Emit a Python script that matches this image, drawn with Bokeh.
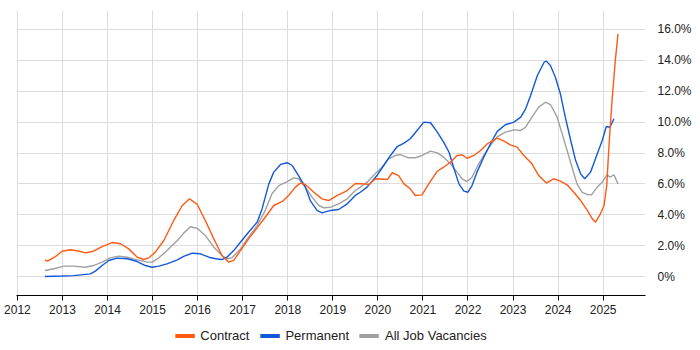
from bokeh.plotting import figure
from bokeh.layouts import column
from bokeh.models import FixedTicker, Legend, LegendItem
from bokeh.embed import file_html
from bokeh.resources import INLINE

# ---- data (percent of job ads) ----
contract_t = [2012.61, 2012.67, 2012.85, 2012.99, 2013.18, 2013.35, 2013.51, 2013.69, 2013.88, 2014.1,
              2014.29, 2014.47, 2014.66, 2014.8, 2014.92, 2015.06, 2015.25, 2015.47, 2015.66, 2015.82,
              2015.99, 2016.17, 2016.36, 2016.54, 2016.69, 2016.8, 2016.95, 2017.13, 2017.32, 2017.5,
              2017.69, 2017.88, 2018.02, 2018.17, 2018.28, 2018.39, 2018.58, 2018.76, 2018.91, 2019.1,
              2019.32, 2019.5, 2019.69, 2019.8, 2019.95, 2020.21, 2020.32, 2020.46, 2020.58, 2020.72,
              2020.83, 2020.98, 2021.13, 2021.32, 2021.46, 2021.61, 2021.76, 2021.87, 2021.98, 2022.13,
              2022.28, 2022.43, 2022.65, 2022.8, 2022.94, 2023.09, 2023.24, 2023.42, 2023.57, 2023.74,
              2023.9, 2024.05, 2024.2, 2024.35, 2024.5, 2024.65, 2024.76, 2024.83, 2024.94, 2025.02,
              2025.08, 2025.13, 2025.2, 2025.27, 2025.33]
contract_v = [1.08, 0.99, 1.3, 1.64, 1.73, 1.65, 1.53, 1.64, 1.94, 2.2,
              2.12, 1.79, 1.25, 1.1, 1.21, 1.58, 2.33, 3.63, 4.6, 5.03,
              4.68, 3.63, 2.44, 1.36, 0.93, 1.04, 1.68, 2.44, 3.15, 3.84,
              4.6, 4.86, 5.25, 5.79, 6.05, 5.96, 5.46, 5.03, 4.92, 5.25,
              5.57, 6.02, 6.0, 5.96, 6.33, 6.28, 6.72, 6.54, 6.0, 5.68,
              5.25, 5.29, 6.0, 6.82, 7.08, 7.4, 7.84, 7.88, 7.66, 7.84,
              8.16, 8.6, 8.97, 8.77, 8.53, 8.38, 7.84, 7.3, 6.54, 6.05,
              6.33, 6.18, 5.94, 5.46, 4.92, 4.28, 3.74, 3.52, 4.06, 4.6,
              5.9, 8.5, 11.5, 14.0, 15.72]

permanent_t = [2012.61, 2012.99, 2013.25, 2013.62, 2013.73, 2013.88, 2014.03, 2014.21, 2014.44, 2014.66,
               2014.84, 2014.99, 2015.14, 2015.32, 2015.55, 2015.69, 2015.88, 2016.06, 2016.25, 2016.4,
               2016.54, 2016.65, 2016.8, 2016.95, 2017.13, 2017.32, 2017.43, 2017.58, 2017.69, 2017.84,
               2017.99, 2018.1, 2018.24, 2018.39, 2018.5, 2018.65, 2018.76, 2018.95, 2019.13, 2019.32,
               2019.5, 2019.61, 2019.76, 2019.98, 2020.13, 2020.28, 2020.43, 2020.58, 2020.72, 2020.87,
               2021.02, 2021.17, 2021.32, 2021.46, 2021.58, 2021.69, 2021.8, 2021.91, 2022.0, 2022.09,
               2022.2, 2022.35, 2022.5, 2022.65, 2022.83, 2023.02, 2023.17, 2023.28, 2023.39, 2023.54,
               2023.69, 2023.74, 2023.83, 2023.94, 2024.05, 2024.16, 2024.28, 2024.39, 2024.5, 2024.59,
               2024.72, 2024.87, 2024.98, 2025.07, 2025.15, 2025.24]
permanent_v = [0.0, 0.03, 0.06, 0.17, 0.35, 0.71, 1.04, 1.19, 1.15, 0.97,
               0.71, 0.6, 0.67, 0.82, 1.08, 1.3, 1.51, 1.47, 1.25, 1.15,
               1.1, 1.25, 1.68, 2.22, 2.87, 3.52, 4.38, 6.0, 6.76, 7.26,
               7.37, 7.19, 6.54, 5.79, 4.92, 4.28, 4.12, 4.28, 4.34, 4.71,
               5.25, 5.46, 5.79, 6.54, 7.19, 7.84, 8.42, 8.64, 8.92, 9.46,
               10.0, 9.96, 9.35, 8.7, 8.05, 6.98, 6.0, 5.53, 5.46, 5.89,
               6.76, 7.73, 8.6, 9.4, 9.83, 10.0, 10.32, 10.86, 11.73, 13.02,
               13.88, 13.95, 13.67, 12.91, 11.84, 10.32, 8.81, 7.51, 6.65, 6.33,
               6.76, 7.95, 8.81, 9.72, 9.67, 10.22]

all_t = [2012.61, 2012.81, 2013.03, 2013.25, 2013.51, 2013.69, 2013.88, 2014.06, 2014.25, 2014.44,
         2014.66, 2014.88, 2014.99, 2015.14, 2015.32, 2015.55, 2015.69, 2015.84, 2015.99, 2016.17,
         2016.36, 2016.54, 2016.65, 2016.76, 2016.95, 2017.13, 2017.32, 2017.5, 2017.65, 2017.8,
         2017.99, 2018.13, 2018.24, 2018.39, 2018.54, 2018.69, 2018.8, 2018.95, 2019.13, 2019.32,
         2019.5, 2019.61, 2019.76, 2019.94, 2020.09, 2020.24, 2020.39, 2020.5, 2020.68, 2020.83,
         2020.98, 2021.17, 2021.32, 2021.46, 2021.61, 2021.76, 2021.87, 2021.98, 2022.09, 2022.2,
         2022.35, 2022.5, 2022.65, 2022.83, 2023.02, 2023.17, 2023.28, 2023.42, 2023.57, 2023.72,
         2023.83, 2023.98, 2024.09, 2024.2, 2024.31, 2024.42, 2024.53, 2024.65, 2024.74, 2024.87,
         2024.98, 2025.09, 2025.15, 2025.24, 2025.33]
all_v = [0.39, 0.5, 0.67, 0.67, 0.6, 0.71, 0.93, 1.21, 1.32, 1.25,
         1.08, 0.93, 0.93, 1.21, 1.68, 2.33, 2.81, 3.22, 3.12, 2.66,
         1.9, 1.36, 1.15, 1.21, 1.79, 2.55, 3.3, 4.28, 5.36, 5.89,
         6.15, 6.39, 6.33, 5.79, 5.14, 4.6, 4.45, 4.49, 4.71, 5.03,
         5.57, 5.79, 6.11, 6.65, 7.08, 7.62, 7.84, 7.9, 7.69, 7.69,
         7.84, 8.12, 8.01, 7.73, 7.3, 6.76, 6.33, 6.15, 6.43, 7.08,
         7.84, 8.49, 9.05, 9.35, 9.5, 9.46, 9.67, 10.32, 10.97, 11.29,
         11.14, 10.32, 9.24, 8.16, 7.08, 6.0, 5.46, 5.31, 5.29, 5.79,
         6.11, 6.6, 6.43, 6.59, 6.0]

year_ticks = list(range(2012, 2026))
y_ticks = [0, 2, 4, 6, 8, 10, 12, 14, 16]
y_tick_labels = ["0%", "2.0%", "4.0%", "6.0%", "8.0%", "10.0%", "12.0%", "14.0%", "16.0%"]
series_names = ["Contract", "Permanent", "All Job Vacancies"]
series_colors = ["#ff5a14", "#1358d8", "#a0a0a0"]

p = figure(width=700, height=321, output_backend="svg", toolbar_location=None,
           x_range=(2011.98, 2025.94), y_range=(-1.23, 17.23),
           y_axis_location="right", min_border_left=16, min_border_right=55,
           min_border_top=10, min_border_bottom=26)
p.outline_line_color = None
p.background_fill_color = "white"

# axes
p.xaxis.ticker = FixedTicker(ticks=year_ticks)
p.xaxis.axis_line_color = "#000000"
p.xaxis.major_tick_line_color = "#000000"
p.xaxis.major_tick_out = 5
p.xaxis.major_tick_in = 0
p.xaxis.minor_tick_line_color = None
p.xaxis.major_label_standoff = 4
p.xaxis.major_label_text_font = "Liberation Sans"
p.xaxis.major_label_text_font_size = "12px"
p.xaxis.major_label_text_color = "#222222"
p.xaxis.axis_label_standoff = 0

p.yaxis.ticker = FixedTicker(ticks=y_ticks)
p.yaxis.major_label_overrides = {t: l for t, l in zip(y_ticks, y_tick_labels)}
p.yaxis.axis_line_color = None
p.yaxis.major_tick_line_color = None
p.yaxis.minor_tick_line_color = None
p.yaxis.major_label_standoff = 6
p.yaxis.major_label_text_font = "Liberation Sans"
p.yaxis.major_label_text_font_size = "12px"
p.yaxis.major_label_text_color = "#222222"

p.xgrid.ticker = FixedTicker(ticks=year_ticks)
p.ygrid.ticker = FixedTicker(ticks=y_ticks)
p.xgrid.grid_line_color = "#dcdcdc"
p.ygrid.grid_line_color = "#dcdcdc"

series = [(contract_t, contract_v), (permanent_t, permanent_v), (all_t, all_v)]
# draw gray first, then blue, then orange on top
for i in [2, 1, 0]:
    t, v = series[i]
    p.line(t, v, line_color=series_colors[i], line_width=1.4)

# legend in its own strip below the chart (series drawn outside its visible range,
# only the legend swatches show)
pl = figure(width=700, height=28, output_backend="svg", toolbar_location=None,
            x_range=(0, 1), y_range=(0, 1), x_axis_location=None, y_axis_location=None,
            min_border_left=16, min_border_right=55, min_border_top=0, min_border_bottom=0)
pl.outline_line_color = None
pl.xgrid.visible = False
pl.ygrid.visible = False
items = []
for i in range(3):
    t, v = series[i]
    r = pl.line(t, v, line_color=series_colors[i], line_width=4)
    items.append(LegendItem(label=series_names[i], renderers=[r]))

legend = Legend(items=items, orientation="horizontal", location="center",
                label_text_font="Liberation Sans", label_text_font_size="13px",
                label_text_color="#222222", glyph_width=20, glyph_height=14,
                label_height=14, label_standoff=6, spacing=10, padding=0, margin=0,
                border_line_color=None, background_fill_alpha=0)
pl.add_layout(legend, "center")

layout = column(p, pl, spacing=0)
open("out.html", "w").write(file_html(layout, INLINE))
